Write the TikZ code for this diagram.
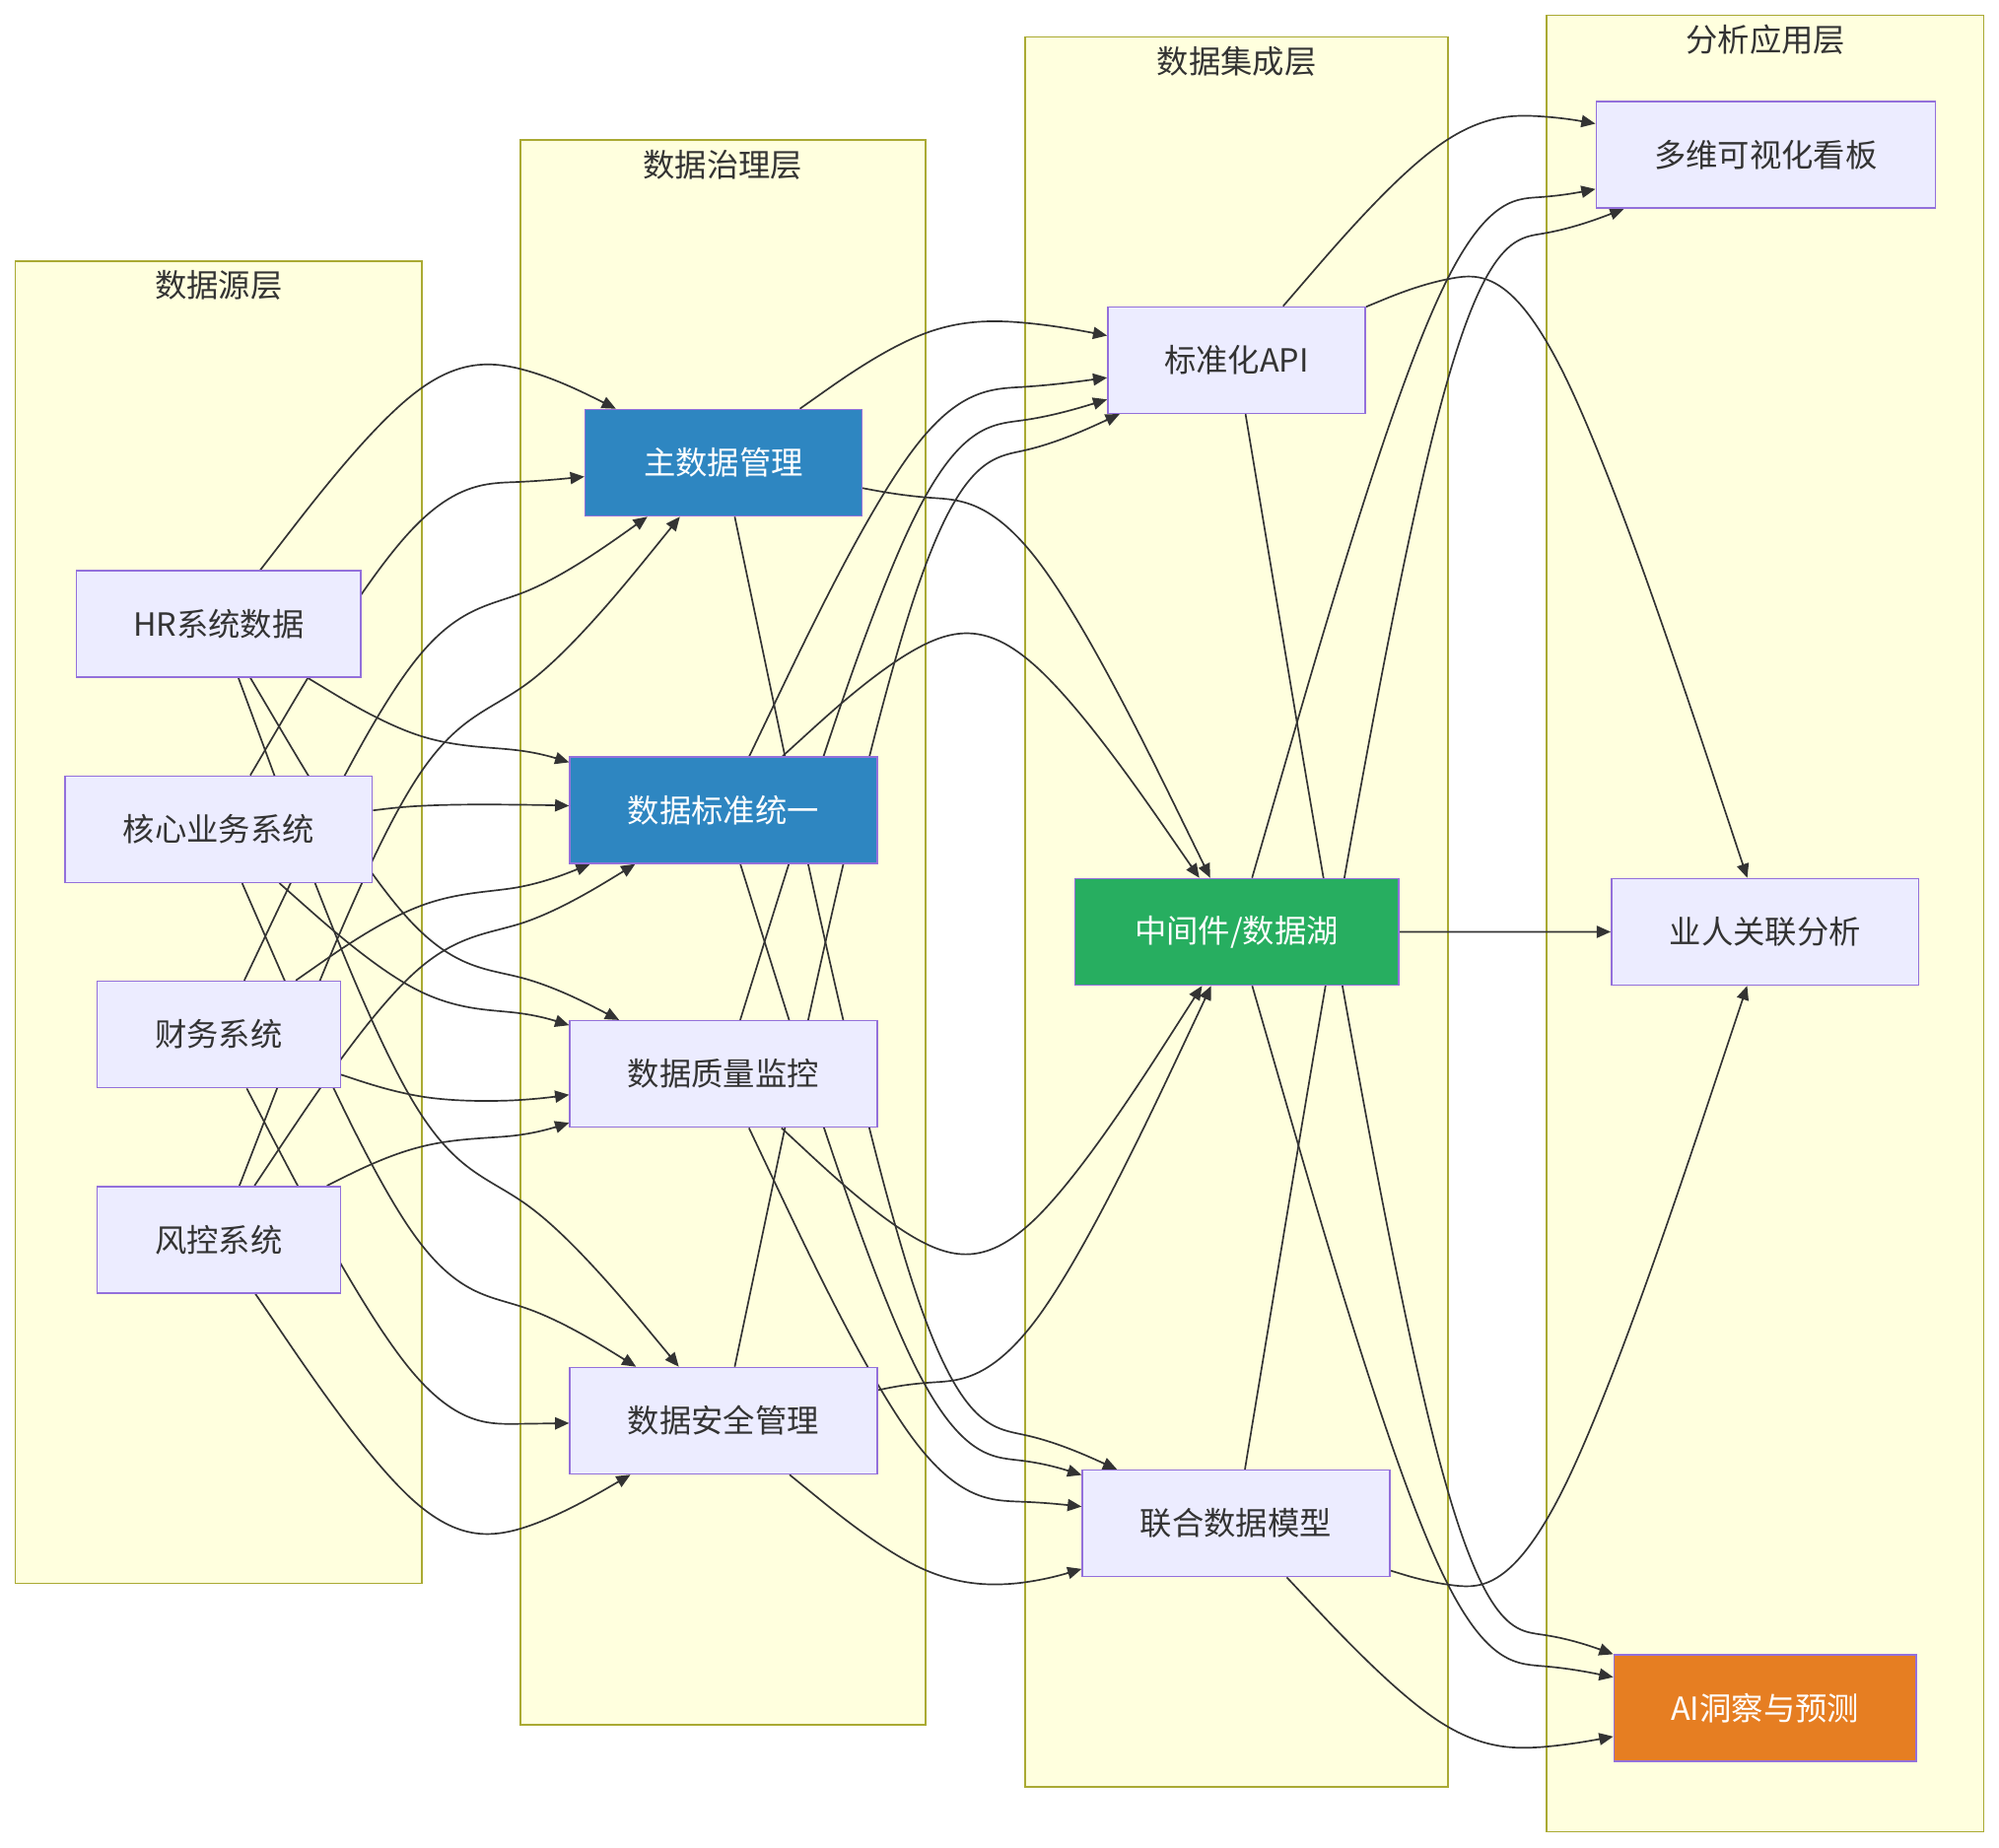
\documentclass[tikz,border=0pt]{standalone}
\usepackage{fontspec}
\setmainfont{Noto Sans CJK SC}
\usetikzlibrary{arrows.meta, calc}
\definecolor{clfill}{HTML}{FFFFDE}
\definecolor{clline}{HTML}{AAAA33}
\definecolor{ndfill}{HTML}{ECECFF}
\definecolor{ndline}{HTML}{9370DB}
\definecolor{ink}{HTML}{333333}
\definecolor{myblue}{HTML}{2E86C1}
\definecolor{mygreen}{HTML}{27AE60}
\definecolor{myorange}{HTML}{E67E22}
\pgfdeclarelayer{clusters}
\pgfdeclarelayer{links}
\pgfsetlayers{clusters,links,main}

% basis curve: source -> gap entry -> gap exit -> target
\newcommand{\flow}[5]{%
  \path (#1) -- (#3,#5) coordinate[pos=0] (p0);
  \path (#4,#5) -- (#2) coordinate[pos=1] (p3);
  \coordinate (p1) at (#3,#5);
  \coordinate (p2) at (#4,#5);
  \draw[link,shorten >=5pt] (p0) -- ($0.8333*(p0)+0.1667*(p1)$)
    .. controls ($0.6667*(p0)+0.3333*(p1)$) and ($0.3333*(p0)+0.6667*(p1)$)
    .. ($0.1667*(p0)+0.6667*(p1)+0.1667*(p2)$)
    .. controls ($0.6667*(p1)+0.3333*(p2)$) and ($0.3333*(p1)+0.6667*(p2)$)
    .. ($0.1667*(p1)+0.6667*(p2)+0.1667*(p3)$)
    .. controls ($0.6667*(p2)+0.3333*(p3)$) and ($0.3333*(p2)+0.6667*(p3)$)
    .. ($0.1667*(p2)+0.8333*(p3)$) -- (p3);
  \draw[link,-{Triangle[length=11pt,width=9.5pt]}] ($(p3)!12pt!(p2)$) -- (p3);
}

\begin{document}
\begin{tikzpicture}[x=1pt,y=-1pt,
    box/.style={draw=ndline,fill=ndfill,line width=1.2pt,minimum height=83.5pt,inner sep=0pt,text=ink,font=\fontsize{25}{29}\selectfont},
    dark/.style={box,text=white},
    cluster/.style={draw=clline,fill=clfill,line width=1.3pt},
    title/.style={text=ink,font=\fontsize{25}{29}\selectfont},
    link/.style={draw=ink,line width=1.3pt}]
  \begin{pgfonlayer}{clusters}
    \path[use as bounding box,fill=white](0,0) rectangle (1568,1449);
    \draw[cluster](12,205) rectangle (331,1242);
    \draw[cluster](408,110) rectangle (726,1353);
    \draw[cluster](804,29) rectangle (1136,1402);
    \draw[cluster](1213,12) rectangle (1556,1437);
  \end{pgfonlayer}
  \node[title] (srctitle) at (171.5,224){数据源层};
  \node[title] (govtitle) at (567,129){数据治理层};
  \node[title] (inttitle) at (970,48){数据集成层};
  \node[title] (apptitle) at (1385,31){分析应用层};
  % data sources
  \node[box,minimum width=223pt] (hr) at (171.5,489.5){HR系统数据};
  \node[box,minimum width=241pt] (core) at (171.5,650.5){核心业务系统};
  \node[box,minimum width=191pt] (fin) at (171.5,811.5){财务系统};
  \node[box,minimum width=191pt] (risk) at (171.5,972.5){风控系统};
  % governance
  \node[dark,fill=myblue,minimum width=217pt] (mdm) at (567.5,363){主数据管理};
  \node[dark,fill=myblue,minimum width=241pt] (std) at (567.5,635.5){数据标准统一};
  \node[box,minimum width=241pt] (dq) at (567.5,842.5){数据质量监控};
  \node[box,minimum width=241pt] (sec) at (567.5,1114.5){数据安全管理};
  % integration
  \node[box,minimum width=202pt] (api) at (970,282.5){标准化API};
  \node[dark,fill=mygreen,minimum width=254pt] (lake) at (970,731){中间件/数据湖};
  \node[box,minimum width=241pt] (model) at (969.5,1195){联合数据模型};
  % applications
  \node[box,minimum width=266pt] (dash) at (1385,121.5){多维可视化看板};
  \node[box,minimum width=241pt] (rel) at (1384.5,731){业人关联分析};
  \node[dark,fill=myorange,minimum width=237pt] (ai) at (1384.5,1340){AI洞察与预测};
  \begin{pgfonlayer}{links}
    \flow{hr}{mdm}{331}{408}{283}
    \flow{hr}{std}{331}{408}{586}
    \flow{hr}{dq}{331}{408}{760}
    \flow{hr}{sec}{331}{408}{922}
    \flow{core}{mdm}{331}{408}{379}
    \flow{core}{std}{331}{408}{631}
    \flow{core}{dq}{331}{408}{792}
    \flow{core}{sec}{331}{408}{1016}
    \flow{fin}{mdm}{331}{408}{476}
    \flow{fin}{std}{331}{408}{700}
    \flow{fin}{dq}{331}{408}{864}
    \flow{fin}{sec}{331}{408}{1117}
    \flow{risk}{mdm}{331}{408}{560}
    \flow{risk}{std}{331}{408}{733}
    \flow{risk}{dq}{331}{408}{893}
    \flow{risk}{sec}{331}{408}{1207}
    \flow{mdm}{api}{726}{804}{251}
    \flow{mdm}{lake}{726}{804}{392}
    \flow{mdm}{model}{726}{804}{1120}
    \flow{std}{api}{726}{804}{305}
    \flow{std}{lake}{726}{804}{491}
    \flow{std}{model}{726}{804}{1143}
    \flow{dq}{api}{726}{804}{333}
    \flow{dq}{lake}{726}{804}{990}
    \flow{dq}{model}{726}{804}{1177}
    \flow{sec}{api}{726}{804}{359}
    \flow{sec}{lake}{726}{804}{1083}
    \flow{sec}{model}{726}{804}{1244}
    \flow{api}{dash}{1136}{1213}{90}
    \flow{api}{rel}{1136}{1213}{214}
    \flow{api}{ai}{1136}{1213}{1279}
    \flow{lake}{dash}{1136}{1213}{156}
    \flow{lake}{rel}{1136}{1213}{731}
    \flow{lake}{ai}{1136}{1213}{1305}
    \flow{model}{dash}{1136}{1213}{187}
    \flow{model}{rel}{1136}{1213}{1246}
    \flow{model}{ai}{1136}{1213}{1372}
  \end{pgfonlayer}
\end{tikzpicture}
\end{document}
